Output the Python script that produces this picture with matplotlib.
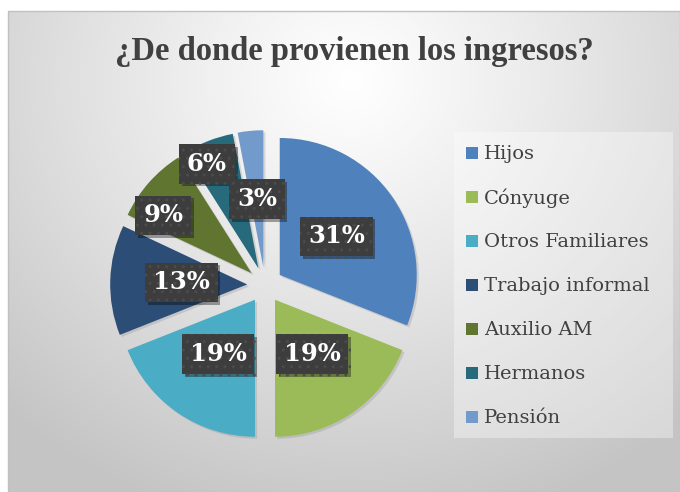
import numpy as np
import matplotlib
matplotlib.use("Agg")
import matplotlib.pyplot as plt
from matplotlib.patches import Rectangle
import matplotlib.patheffects as pe

# data
categories = ["Hijos", "Cónyuge", "Otros Familiares", "Trabajo informal",
              "Auxilio AM", "Hermanos", "Pensión"]
percentages = [31, 19, 19, 13, 9, 6, 3]
pct_labels = ["31%", "19%", "19%", "13%", "9%", "6%", "3%"]

colors = ["#4F81BD", "#9BBB59", "#4BACC6", "#2C4D75",
          "#5F7530", "#276A7C", "#729ACA"]

# label placement (fraction of radius, angle nudge in degrees)
label_r = [0.63, 0.61, 0.61, 0.61, 0.90, 0.98, 0.63]
label_shift = [0, 0, 0, 0, 7, 4, 0]

W, H = 680, 492
fig = plt.figure(figsize=(W / 100, H / 100), dpi=100)
fig.patch.set_facecolor("white")

# background with a radial gradient
bg = fig.add_axes([0, 0, 1, 1])
bg.set_xlim(0, W)
bg.set_ylim(H, 0)
bg.axis("off")
yy, xx = np.mgrid[0:H, 0:W]
d = np.hypot(xx - 350, (yy - 80) * 1.1)
v = 1 - 0.23 * np.clip(d / 500, 0, 1) ** 1.1
img = np.dstack([v, v, v])
x0, y0 = 8, 11
bg.imshow(img[y0:, x0:], extent=(x0, W, H, y0), zorder=0)
bg.add_patch(Rectangle((x0, y0), W - x0, H - y0, fill=False,
                       ec="#c0c0c0", lw=1.0, zorder=1))

# legend backdrop
bg.add_patch(Rectangle((454, 132), 219, 306, fc="white", alpha=0.35,
                       ec="none", zorder=1))

bg.text(354, 60, "¿De donde provienen los ingresos?", ha="center",
        va="baseline", fontsize=23.5, fontweight="bold",
        family="Liberation Serif", color="#404040")

# pie axes
R = 137
cx, cy = 265, H - 285
ax = fig.add_axes([(cx - 1.25 * R) / W, (cy - 1.25 * R) / H,
                   2.5 * R / W, 2.5 * R / H])
wedges, _ = ax.pie(percentages, colors=colors, startangle=90,
                   counterclock=False, explode=[0.13] * len(percentages),
                   wedgeprops=dict(linewidth=0))
ax.set_xlim(-1.25, 1.25)
ax.set_ylim(-1.25, 1.25)
ax.set_aspect("equal")
ax.axis("off")

for w in wedges:
    w.set_path_effects([pe.SimplePatchShadow(offset=(1.5, -1.5),
                                             shadow_rgbFace="#808080",
                                             alpha=0.25), pe.Normal()])

for w, lab, r, sh in zip(wedges, pct_labels, label_r, label_shift):
    ang = np.deg2rad((w.theta1 + w.theta2) / 2 + sh)
    t = ax.text(r * np.cos(ang), r * np.sin(ang), lab, ha="center",
                va="center", fontsize=17.5, fontweight="bold",
                family="DejaVu Serif", color="white", zorder=5,
                bbox=dict(boxstyle="square,pad=0.32", fc="#3d3d3d",
                          ec="#4b4b4b", lw=0, hatch=".."))
    t.set_clip_on(False)
    t.get_bbox_patch().set_path_effects([
        pe.SimplePatchShadow(offset=(2, -2), shadow_rgbFace="black",
                             alpha=0.35), pe.Normal()])

# legend
for i, (c, name) in enumerate(zip(colors, categories)):
    yc = 153 + 44 * i
    bg.add_patch(Rectangle((466, yc - 6), 12, 12, fc=c, ec="none", zorder=3))
    bg.text(484, yc + 1, name, ha="left", va="center", fontsize=14,
            family="DejaVu Serif", color="#404040", zorder=3)

fig.savefig("out.png", dpi=100)
